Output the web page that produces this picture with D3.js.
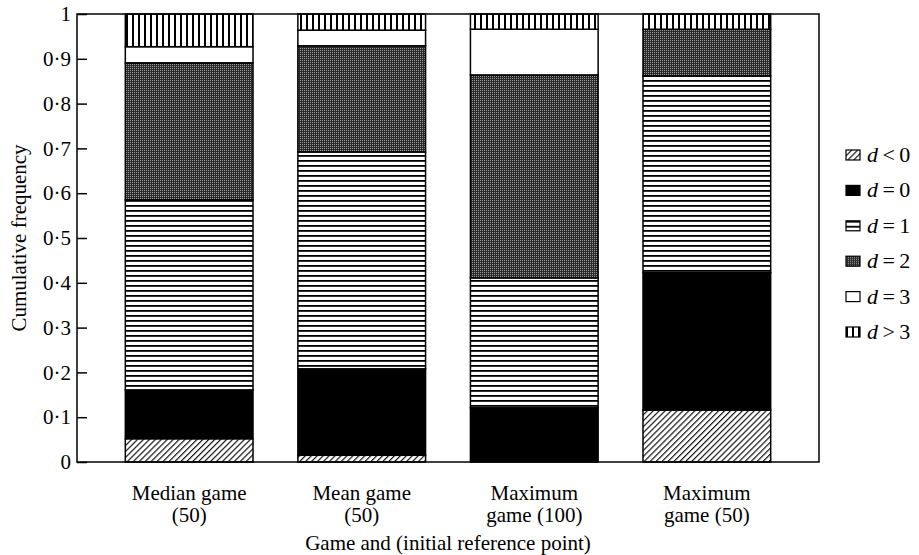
<!DOCTYPE html>
<html lang="en">
  <head>
    <meta charset="utf-8">
    <script src="https://d3js.org/d3.v7.min.js"></script>
    <title>Cumulative frequency by game</title>
    <style>
      body { margin: 0; background: #fff; }
      text { font-family: "Liberation Serif", "Times New Roman", serif; fill: #000; }
    </style>
  </head>
  <body>
    <script>

    // games, shown as two label lines under each bar
    var gamesLine1 = ["Median game", "Mean game", "Maximum", "Maximum"];
    var gamesLine2 = ["(50)", "(50)", "game (100)", "game (50)"];
    var games = ["median50", "mean50", "max100", "max50"];

    // categories of d, bottom to top
    var cats = ["d<0", "d=0", "d=1", "d=2", "d=3", "d>3"];
    var catLabels = [["<", "0"], ["=", "0"], ["=", "1"], ["=", "2"], ["=", "3"], [">", "3"]];

    // frequency of each category, one array per game
    var median50 = [0.052, 0.109, 0.424, 0.306, 0.036, 0.073];
    var mean50   = [0.015, 0.193, 0.484, 0.237, 0.035, 0.036];
    var max100   = [0.000, 0.121, 0.290, 0.453, 0.102, 0.034];
    var max50    = [0.116, 0.307, 0.439, 0.104, 0.000, 0.034];

    var yTicks = [0, 0.1, 0.2, 0.3, 0.4, 0.5, 0.6, 0.7, 0.8, 0.9, 1];

    var W = 919, H = 555;
    var plotL = 77, plotR = 819, plotT = 14, plotB = 462;

    var rows = [median50, mean50, max100, max50].map(function(v, i) {
      var r = {game: games[i]};
      cats.forEach(function(c, j) { r[c] = v[j]; });
      return r;
    });

    var x = d3.scaleBand()
      .domain(games)
      .range([plotL, plotR])
      .paddingInner(0.26)
      .paddingOuter(0.28);

    var y = d3.scaleLinear()
      .domain([0, 1])
      .range([plotB, plotT]);

    var svg = d3.select("body").append("svg")
      .attr("width", W)
      .attr("height", H);

    // fill patterns
    var defs = svg.append("defs");

    var hatch = defs.append("pattern")
      .attr("id", "hatch")
      .attr("patternUnits", "userSpaceOnUse")
      .attr("width", 4.2).attr("height", 4.2)
      .attr("patternTransform", "rotate(45)");
    hatch.append("rect").attr("width", 4.2).attr("height", 4.2).attr("fill", "#fff");
    hatch.append("line").attr("x1", 0.6).attr("x2", 0.6).attr("y1", 0).attr("y2", 4.2)
      .attr("stroke", "#000").attr("stroke-width", 1.1);

    var hl = defs.append("pattern")
      .attr("id", "hlines")
      .attr("patternUnits", "userSpaceOnUse")
      .attr("width", 10).attr("height", 5);
    hl.append("rect").attr("width", 10).attr("height", 5).attr("fill", "#fff");
    hl.append("rect").attr("y", 0).attr("width", 10).attr("height", 1.8).attr("fill", "#000");

    var dith = defs.append("pattern")
      .attr("id", "dither")
      .attr("patternUnits", "userSpaceOnUse")
      .attr("width", 2).attr("height", 2);
    dith.append("rect").attr("width", 2).attr("height", 2).attr("fill", "#2a2a2a");
    dith.append("rect").attr("width", 1).attr("height", 1).attr("fill", "#9a9a9a");

    var vl = defs.append("pattern")
      .attr("id", "vlines")
      .attr("patternUnits", "userSpaceOnUse")
      .attr("width", 6).attr("height", 10);
    vl.append("rect").attr("width", 6).attr("height", 10).attr("fill", "#fff");
    vl.append("rect").attr("x", 0).attr("width", 2).attr("height", 10).attr("fill", "#000");

    var fills = {
      "d<0": "url(#hatch)",
      "d=0": "#000",
      "d=1": "url(#hlines)",
      "d=2": "url(#dither)",
      "d=3": "#fff",
      "d>3": "url(#vlines)"
    };

    var series = d3.stack().keys(cats)(rows);

    var layers = svg.selectAll(".layer")
      .data(series)
      .enter().append("g")
        .attr("class", "layer")
        .attr("fill", function(d) { return fills[d.key]; });

    layers.selectAll("rect")
      .data(function(d) { return d.filter(function(s) { return s[1] - s[0] > 0; }); })
      .enter().append("rect")
        .attr("x", function(d) { return x(d.data.game); })
        .attr("width", x.bandwidth())
        .attr("y", function(d) { return y(d[1]); })
        .attr("height", function(d) { return y(d[0]) - y(d[1]); })
        .attr("stroke", "#000")
        .attr("stroke-width", 1.5);

    // frame
    svg.append("rect")
      .attr("x", plotL).attr("y", plotT)
      .attr("width", plotR - plotL).attr("height", plotB - plotT)
      .attr("fill", "none")
      .attr("stroke", "#000")
      .attr("stroke-width", 1.5);

    // y axis, ticks pointing inward
    var yAxis = d3.axisLeft(y)
      .tickValues(yTicks)
      .tickSize(-10)
      .tickPadding(6)
      .tickFormat(function(d) {
        if (d === 0) return "0";
        if (d === 1) return "1";
        return "0\u00b7" + Math.round(d * 10);
      });

    var ya = svg.append("g")
      .attr("transform", "translate(" + plotL + ",0)")
      .call(yAxis);
    ya.select(".domain").remove();
    ya.selectAll("line").attr("stroke", "#000").attr("stroke-width", 1.5);
    ya.selectAll("text")
      .attr("font-family", "Liberation Serif, Times New Roman, serif")
      .attr("font-size", 21);

    svg.append("text")
      .attr("transform", "translate(26," + ((plotT + plotB) / 2) + ") rotate(-90)")
      .attr("text-anchor", "middle")
      .attr("font-size", 21)
      .text("Cumulative frequency");

    // x labels
    var xl = svg.selectAll(".xlab")
      .data(games)
      .enter().append("text")
        .attr("class", "xlab")
        .attr("text-anchor", "middle")
        .attr("font-size", 21)
        .attr("x", function(d) { return x(d) + x.bandwidth() / 2; })
        .attr("y", 500);
    xl.append("tspan").text(function(d, i) { return gamesLine1[i]; });
    xl.append("tspan")
      .attr("x", function(d) { return x(d) + x.bandwidth() / 2; })
      .attr("dy", 22)
      .text(function(d, i) { return gamesLine2[i]; });

    svg.append("text")
      .attr("x", (plotL + plotR) / 2)
      .attr("y", 550)
      .attr("text-anchor", "middle")
      .attr("font-size", 21)
      .text("Game and (initial reference point)");

    // legend
    var leg = svg.selectAll(".leg")
      .data(cats)
      .enter().append("g")
        .attr("class", "leg")
        .attr("transform", function(d, i) { return "translate(846," + (155 + i * 35.4) + ")"; });

    leg.append("rect")
      .attr("x", 0).attr("y", -5)
      .attr("width", 14).attr("height", 10)
      .attr("fill", function(d) { return fills[d]; })
      .attr("stroke", "#000")
      .attr("stroke-width", 1.2);

    var lt = leg.append("text")
      .attr("x", 21)
      .attr("y", 7)
      .attr("font-size", 22);
    lt.append("tspan").attr("font-style", "italic").text("d");
    lt.append("tspan").text(function(d, i) { return "\u2009" + catLabels[i][0] + "\u2009" + catLabels[i][1]; });

    </script>
  </body>
</html>
